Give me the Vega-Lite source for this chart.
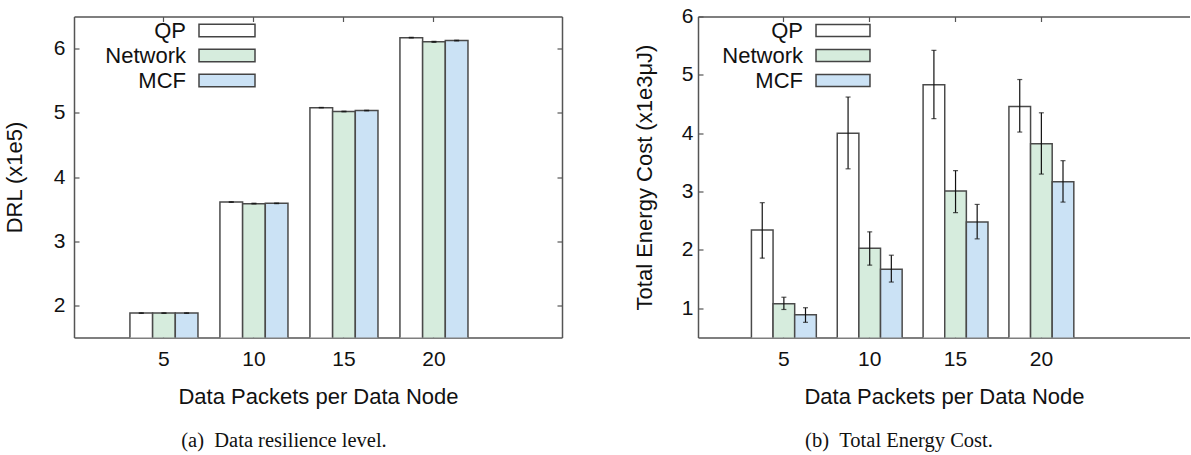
{
  "$schema": "https://vega.github.io/schema/vega-lite/v6.json",
  "padding": {"left": 3, "top": 5.5, "right": 0, "bottom": 0},
  "background": "white",
  "config": {
    "view": {"stroke": null},
    "font": "Liberation Sans",
    "axis": {"labelFont": "Liberation Sans", "labelFontSize": 21, "labelColor": "#111", "titleFont": "Liberation Sans", "titleFontSize": 22, "titleFontWeight": "normal", "titleColor": "#111", "domainColor": "#555", "domainWidth": 1.5, "tickColor": "#555", "tickWidth": 1.2, "tickSize": -5, "grid": false, "labelAngle": 0},
    "title": {"font": "Liberation Serif", "fontSize": 20.5, "fontWeight": "normal", "color": "#111"}
  },
  "datasets": {
    "drl": [
      {"n": 5, "method": "QP", "v": 1.88, "lo": 1.876, "hi": 1.884},
      {"n": 5, "method": "Network", "v": 1.88, "lo": 1.876, "hi": 1.884},
      {"n": 5, "method": "MCF", "v": 1.88, "lo": 1.876, "hi": 1.884},
      {"n": 10, "method": "QP", "v": 3.61, "lo": 3.606, "hi": 3.614},
      {"n": 10, "method": "Network", "v": 3.585, "lo": 3.58, "hi": 3.592},
      {"n": 10, "method": "MCF", "v": 3.59, "lo": 3.585, "hi": 3.595},
      {"n": 15, "method": "QP", "v": 5.08, "lo": 5.076, "hi": 5.084},
      {"n": 15, "method": "Network", "v": 5.02, "lo": 5.015, "hi": 5.026},
      {"n": 15, "method": "MCF", "v": 5.035, "lo": 5.03, "hi": 5.04},
      {"n": 20, "method": "QP", "v": 6.17, "lo": 6.165, "hi": 6.176},
      {"n": 20, "method": "Network", "v": 6.105, "lo": 6.097, "hi": 6.113},
      {"n": 20, "method": "MCF", "v": 6.125, "lo": 6.119, "hi": 6.131}
    ],
    "energy": [
      {"n": 5, "method": "QP", "v": 2.34, "lo": 1.86, "hi": 2.81},
      {"n": 5, "method": "Network", "v": 1.08, "lo": 0.98, "hi": 1.19},
      {"n": 5, "method": "MCF", "v": 0.89, "lo": 0.76, "hi": 1.01},
      {"n": 10, "method": "QP", "v": 4.0, "lo": 3.39, "hi": 4.62},
      {"n": 10, "method": "Network", "v": 2.03, "lo": 1.74, "hi": 2.31},
      {"n": 10, "method": "MCF", "v": 1.67, "lo": 1.45, "hi": 1.91},
      {"n": 15, "method": "QP", "v": 4.83, "lo": 4.25, "hi": 5.42},
      {"n": 15, "method": "Network", "v": 3.01, "lo": 2.64, "hi": 3.36},
      {"n": 15, "method": "MCF", "v": 2.48, "lo": 2.19, "hi": 2.78},
      {"n": 20, "method": "QP", "v": 4.46, "lo": 4.02, "hi": 4.92},
      {"n": 20, "method": "Network", "v": 3.82, "lo": 3.3, "hi": 4.35},
      {"n": 20, "method": "MCF", "v": 3.17, "lo": 2.82, "hi": 3.53}
    ]
  },
  "spacing": 70,
  "resolve": {"scale": {"x": "independent", "y": "independent", "fill": "independent", "xOffset": "independent"}, "legend": {"fill": "independent"}},
  "hconcat": [
    {
      "width": 488, "height": 321,
      "title": {"text": "(a)\u2002Data resilience level.", "orient": "bottom", "frame": "group", "dx": -34, "offset": 23},
      "data": {"name": "drl"},
      "resolve": {"axis": {"x": "independent", "y": "independent"}},
      "layer": [
        {
          "mark": {"type": "bar", "stroke": "#4a4a4a", "strokeWidth": 1.5, "clip": true},
          "encoding": {
            "x": {"field": "n", "type": "ordinal", "scale": {"paddingInner": 0.244, "paddingOuter": 0.833, "align": 0.373}, "axis": {"title": "Data Packets per Data Node", "labelPadding": 16, "titlePadding": 17}},
            "xOffset": {"field": "method", "type": "nominal", "sort": ["QP", "Network", "MCF"], "scale": {"paddingInner": 0, "paddingOuter": 0}},
            "y": {"field": "v", "type": "quantitative", "scale": {"domain": [1.5, 6.5], "nice": false, "zero": false}, "axis": {"values": [2, 3, 4, 5, 6], "title": "DRL (x1e5)", "labelPadding": 14, "titlePadding": 27}},
            "fill": {"field": "method", "type": "nominal", "sort": ["QP", "Network", "MCF"], "scale": {"domain": ["QP", "Network", "MCF"], "range": ["#ffffff", "#d6ecdd", "#cbe2f5"]},
              "legend": {"title": null, "orient": "none", "legendX": 142, "legendY": 3, "symbolType": "M-4,-0.9H4V0.9H-4Z", "symbolSize": 196, "symbolStrokeColor": "#444", "symbolStrokeWidth": 1.5, "symbolOpacity": 1, "labelFont": "Liberation Sans", "labelFontSize": 22, "labelColor": "#111", "labelAlign": "right", "labelOffset": -52, "rowPadding": 3, "padding": 0}}
          }
        },
        {
          "mark": {"type": "rule", "color": "#111", "strokeWidth": 1.2},
          "encoding": {
            "x": {"field": "n", "type": "ordinal", "axis": {"orient": "top", "labels": false, "title": null}},
            "xOffset": {"field": "method", "type": "nominal", "sort": ["QP", "Network", "MCF"]},
            "y": {"field": "lo", "type": "quantitative", "axis": {"orient": "right", "labels": false, "title": null, "values": [2, 3, 4, 5, 6]}},
            "y2": {"field": "hi"}
          }
        },
        {
          "mark": {"type": "tick", "color": "#111", "thickness": 1.2, "size": 5},
          "encoding": {
            "x": {"field": "n", "type": "ordinal", "axis": null},
            "xOffset": {"field": "method", "type": "nominal", "sort": ["QP", "Network", "MCF"]},
            "y": {"field": "lo", "type": "quantitative", "axis": null}
          }
        },
        {
          "mark": {"type": "tick", "color": "#111", "thickness": 1.2, "size": 5},
          "encoding": {
            "x": {"field": "n", "type": "ordinal", "axis": null},
            "xOffset": {"field": "method", "type": "nominal", "sort": ["QP", "Network", "MCF"]},
            "y": {"field": "hi", "type": "quantitative", "axis": null}
          }
        }
      ]
    },
    {
      "width": 492, "height": 321,
      "title": {"text": "(b)\u2002Total Energy Cost.", "orient": "bottom", "frame": "group", "dx": -45, "offset": 23},
      "data": {"name": "energy"},
      "resolve": {"axis": {"x": "independent", "y": "independent"}},
      "layer": [
        {
          "mark": {"type": "bar", "stroke": "#4a4a4a", "strokeWidth": 1.5, "clip": true},
          "encoding": {
            "x": {"field": "n", "type": "ordinal", "scale": {"paddingInner": 0.244, "paddingOuter": 0.988, "align": 0.315}, "axis": {"title": "Data Packets per Data Node", "labelPadding": 16, "titlePadding": 17}},
            "xOffset": {"field": "method", "type": "nominal", "sort": ["QP", "Network", "MCF"], "scale": {"paddingInner": 0, "paddingOuter": 0}},
            "y": {"field": "v", "type": "quantitative", "scale": {"domain": [0.5, 6], "nice": false, "zero": false}, "axis": {"values": [1, 2, 3, 4, 5, 6], "title": "Total Energy Cost (x1e3μJ)", "labelPadding": 10, "titlePadding": 25}},
            "fill": {"field": "method", "type": "nominal", "sort": ["QP", "Network", "MCF"], "scale": {"domain": ["QP", "Network", "MCF"], "range": ["#ffffff", "#d6ecdd", "#cbe2f5"]},
              "legend": {"title": null, "orient": "none", "legendX": 134, "legendY": 3, "symbolType": "M-4,-0.9H4V0.9H-4Z", "symbolSize": 182, "symbolStrokeColor": "#444", "symbolStrokeWidth": 1.5, "symbolOpacity": 1, "labelFont": "Liberation Sans", "labelFontSize": 22, "labelColor": "#111", "labelAlign": "right", "labelOffset": -51, "rowPadding": 3, "padding": 0}}
          }
        },
        {
          "mark": {"type": "rule", "color": "#111", "strokeWidth": 1.2},
          "encoding": {
            "x": {"field": "n", "type": "ordinal", "axis": {"orient": "top", "labels": false, "title": null}},
            "xOffset": {"field": "method", "type": "nominal", "sort": ["QP", "Network", "MCF"]},
            "y": {"field": "lo", "type": "quantitative", "axis": null},
            "y2": {"field": "hi"}
          }
        },
        {
          "mark": {"type": "tick", "color": "#111", "thickness": 1.2, "size": 5},
          "encoding": {
            "x": {"field": "n", "type": "ordinal", "axis": null},
            "xOffset": {"field": "method", "type": "nominal", "sort": ["QP", "Network", "MCF"]},
            "y": {"field": "lo", "type": "quantitative", "axis": null}
          }
        },
        {
          "mark": {"type": "tick", "color": "#111", "thickness": 1.2, "size": 5},
          "encoding": {
            "x": {"field": "n", "type": "ordinal", "axis": null},
            "xOffset": {"field": "method", "type": "nominal", "sort": ["QP", "Network", "MCF"]},
            "y": {"field": "hi", "type": "quantitative", "axis": null}
          }
        }
      ]
    }
  ]
}
